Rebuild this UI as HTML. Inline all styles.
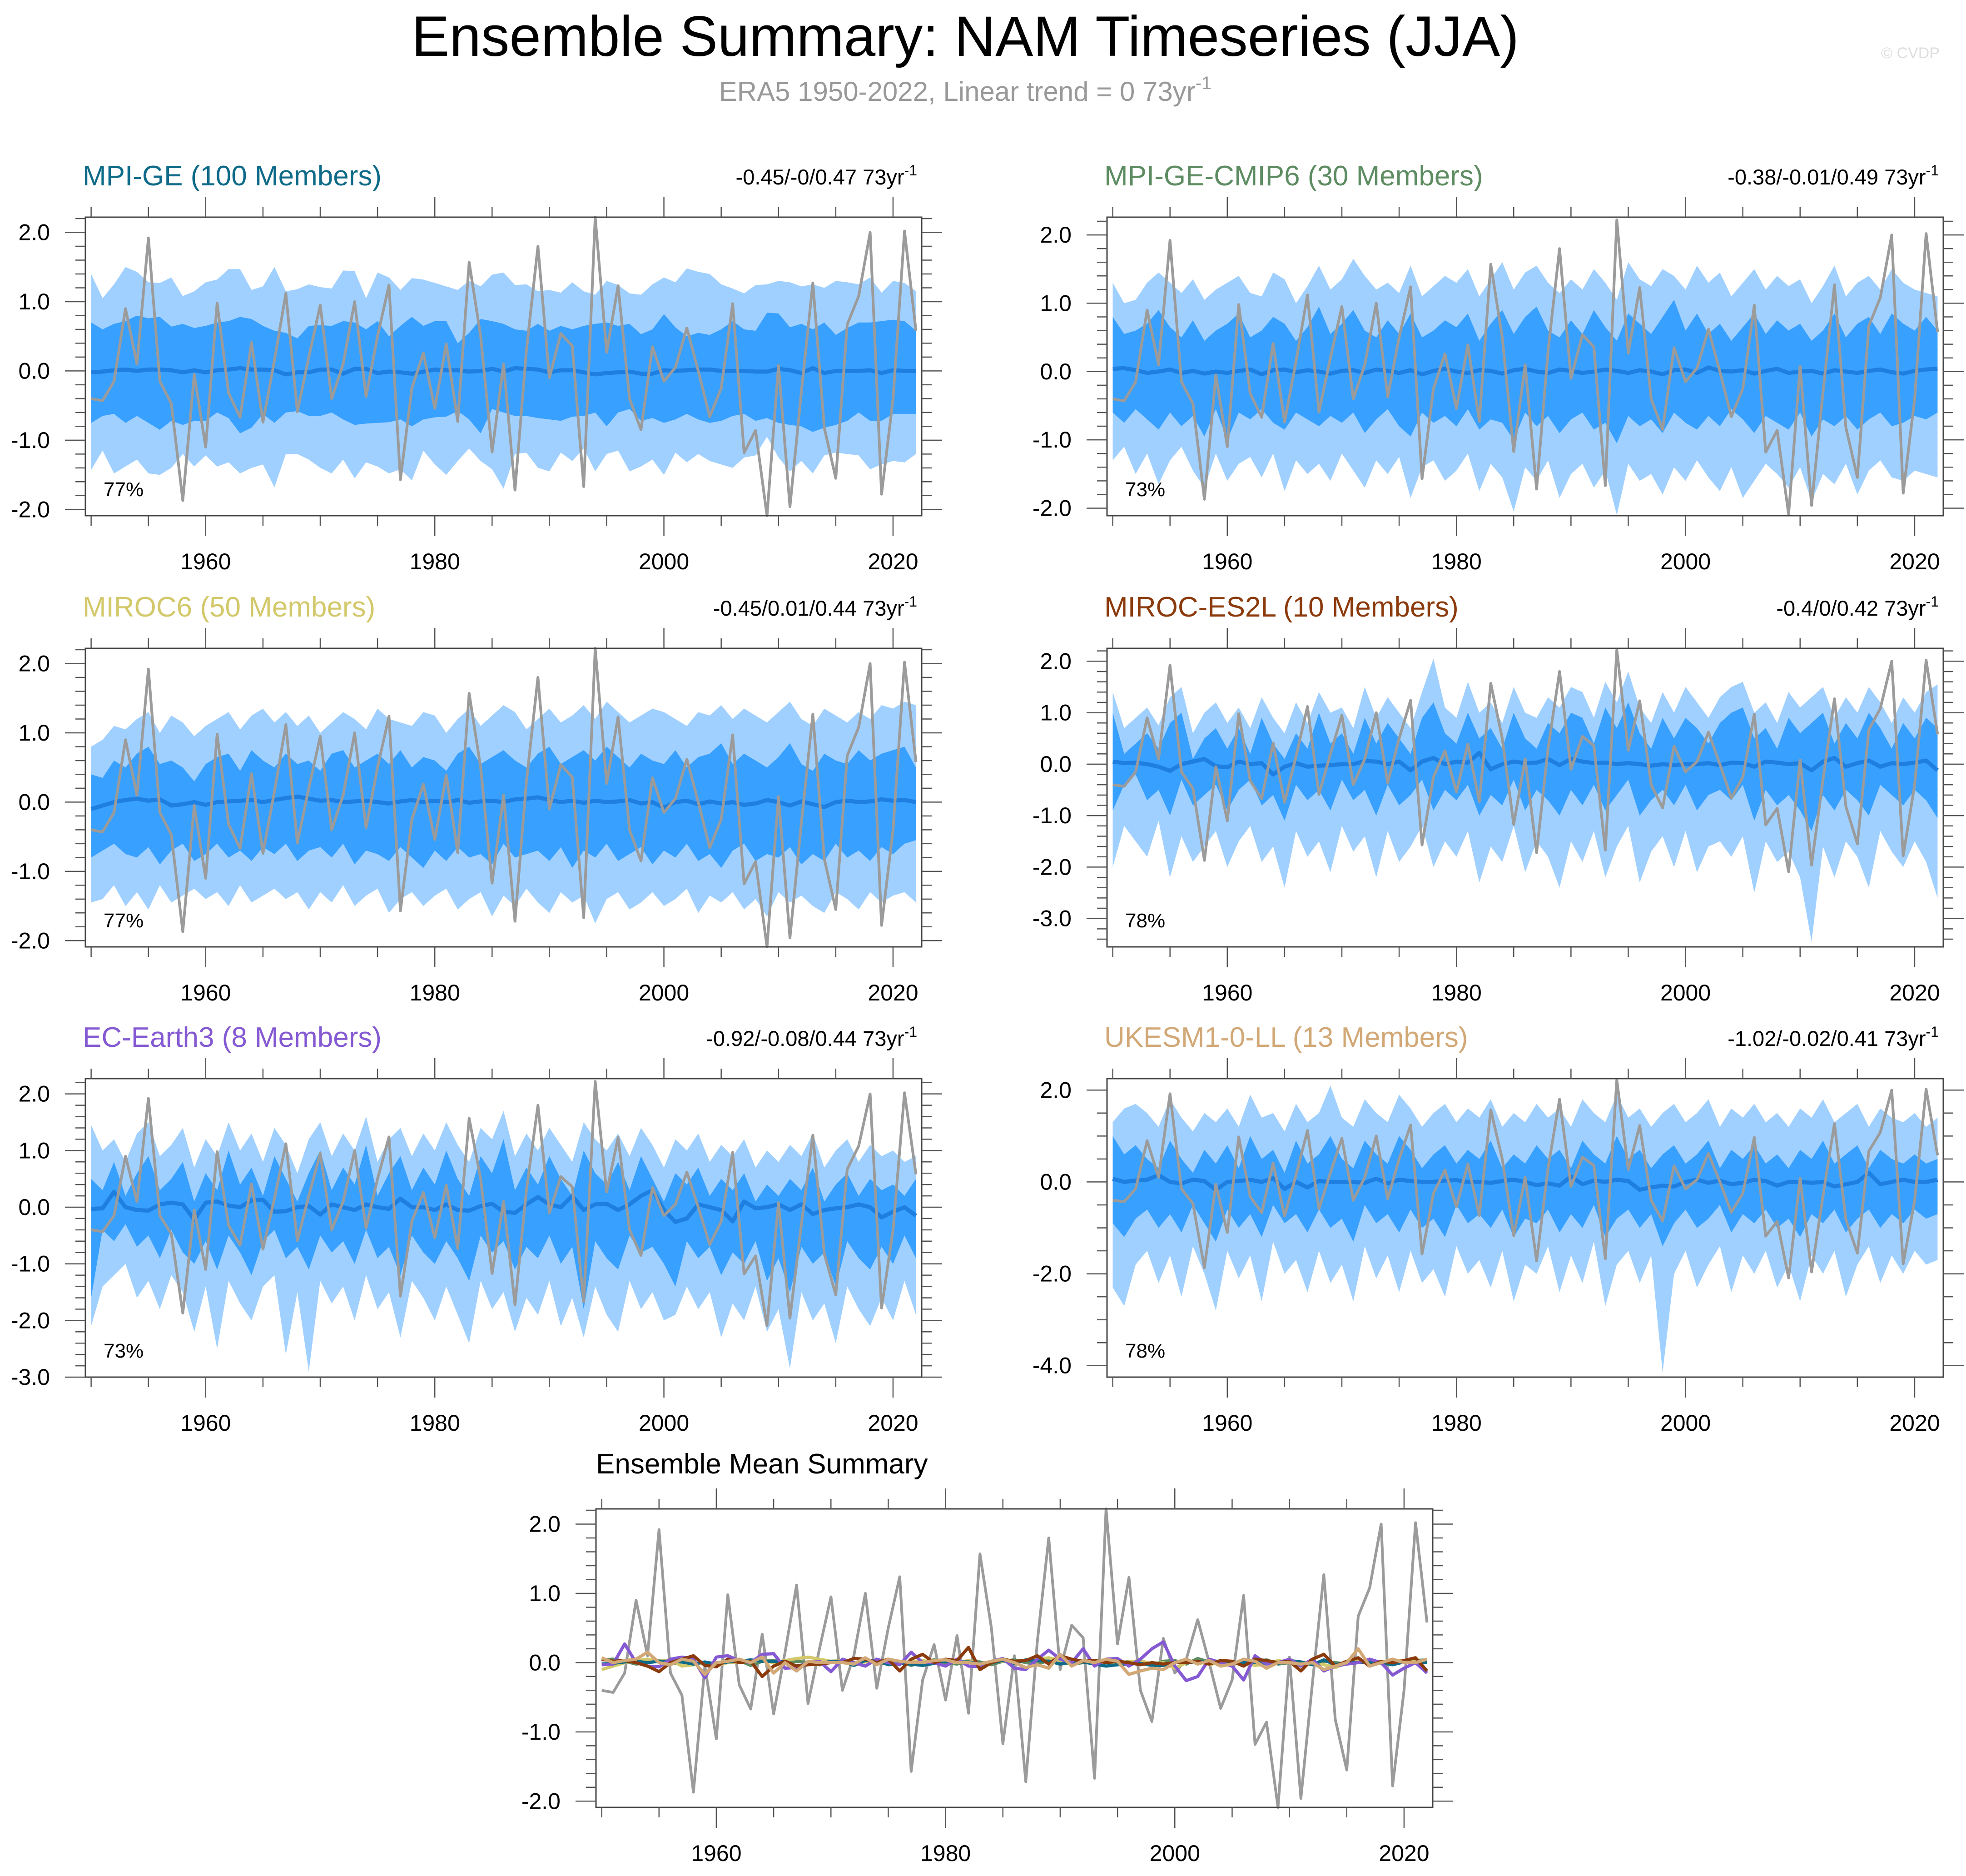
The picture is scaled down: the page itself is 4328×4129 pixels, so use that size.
<!DOCTYPE html>
<html><head><meta charset="utf-8"><style>
html,body{margin:0;padding:0;background:#fff}
svg{display:block;font-family:"Liberation Sans",sans-serif}
</style></head><body>
<svg id="fig" xmlns="http://www.w3.org/2000/svg" width="4328" height="4129" viewBox="0 0 4328 4129">
<rect width="4328" height="4129" fill="#fff"/>
<text x="2125" y="123" font-size="125" text-anchor="middle" fill="#000">Ensemble Summary: NAM Timeseries (JJA)</text>
<text x="2125" y="222" font-size="60" text-anchor="middle" fill="#999">ERA5 1950-2022, Linear trend = 0 73yr<tspan font-size="40" dy="-26">-1</tspan></text>
<text x="4270" y="128" font-size="34" text-anchor="end" fill="#ddd">© CVDP</text>
</svg>
<script>
const years=[];for(let y=1950;y<=2022;y++)years.push(y);
const era5=[-0.40,-0.43,-0.15,0.90,0.10,1.92,-0.15,-0.47,-1.87,-0.05,
-1.10,0.98,-0.32,-0.67,0.41,-0.74,0.15,1.12,-0.59,0.2,
0.95,-0.40,0.1,1.0,-0.37,0.5,1.24,-1.57,-0.25,0.26,
-0.54,0.39,-0.73,1.57,0.5,-1.17,0.1,-1.72,0.3,1.80,
-0.1,0.54,0.36,-1.67,2.22,0.27,1.23,-0.4,-0.85,0.35,
-0.15,0.05,0.62,0.0,-0.66,-0.25,0.97,-1.18,-0.86,-2.09,
0.08,-1.96,-0.3,1.27,-0.82,-1.55,0.67,1.08,2.0,-1.78,
-0.4,2.02,0.58];
const p1HiOuter=[1.4,1.05,1.25,1.5,1.43,1.28,1.27,1.35,1.08,1.15,1.28,1.32,1.47,1.47,1.17,1.22,1.5,1.15,1.18,1.25,1.21,1.19,1.45,1.44,1.05,1.42,1.35,1.17,1.34,1.32,1.27,1.22,1.17,1.3,1.22,1.39,1.42,1.24,1.25,1.15,1.17,1.13,1.28,1.15,1.1,1.3,1.24,1.12,1.1,1.25,1.35,1.28,1.48,1.43,1.4,1.25,1.19,1.12,1.24,1.25,1.3,1.28,1.22,1.25,1.2,1.3,1.28,1.25,1.35,1.13,1.3,1.27,1.15];
const p1HiInner=[0.7,0.6,0.68,0.72,0.8,0.76,0.78,0.64,0.68,0.62,0.65,0.7,0.72,0.78,0.75,0.65,0.58,0.55,0.47,0.65,0.66,0.65,0.72,0.7,0.6,0.72,0.5,0.65,0.78,0.65,0.72,0.72,0.4,0.55,0.75,0.72,0.68,0.6,0.58,0.68,0.58,0.65,0.6,0.65,0.68,0.7,0.65,0.68,0.53,0.6,0.82,0.63,0.5,0.55,0.52,0.6,0.72,0.6,0.58,0.84,0.83,0.63,0.68,0.6,0.7,0.52,0.62,0.7,0.7,0.72,0.74,0.72,0.58];
const p1LoInner=[-0.75,-0.65,-0.62,-0.75,-0.65,-0.75,-0.85,-0.72,-0.78,-0.72,-0.72,-0.6,-0.68,-0.9,-0.82,-0.62,-0.75,-0.6,-0.58,-0.65,-0.65,-0.6,-0.7,-0.78,-0.76,-0.75,-0.74,-0.7,-0.8,-0.7,-0.67,-0.66,-0.58,-0.7,-0.9,-0.55,-0.6,-0.65,-0.65,-0.68,-0.7,-0.72,-0.66,-0.65,-0.6,-0.8,-0.6,-0.55,-0.72,-0.68,-0.75,-0.7,-0.62,-0.7,-0.75,-0.72,-0.65,-0.62,-0.72,-0.68,-0.75,-0.78,-0.8,-0.88,-0.82,-0.78,-0.72,-0.6,-0.72,-0.72,-0.62,-0.62,-0.62];
const p1LoOuter=[-1.43,-1.15,-1.48,-1.38,-1.28,-1.48,-1.5,-1.4,-1.2,-1.38,-1.22,-1.38,-1.32,-1.48,-1.4,-1.35,-1.68,-1.2,-1.2,-1.28,-1.4,-1.48,-1.28,-1.55,-1.32,-1.38,-1.48,-1.42,-1.58,-1.15,-1.35,-1.5,-1.3,-1.12,-1.3,-1.42,-1.7,-1.2,-1.18,-1.4,-1.45,-1.18,-1.3,-1.12,-1.45,-1.2,-1.15,-1.45,-1.38,-1.28,-1.5,-1.18,-1.32,-1.2,-1.3,-1.35,-1.4,-1.25,-1.22,-0.95,-1.25,-1.45,-1.3,-1.48,-1.22,-1.18,-1.2,-1.22,-1.42,-1.35,-1.3,-1.32,-1.2];
const p1Mean=[-0.02,-0.01,0.01,0.02,0,0.02,0.02,0.01,-0.02,0.01,-0.02,0.01,0.02,0.04,0.02,0.02,0.01,-0.05,-0.02,-0.02,0.02,0.02,-0.04,0.03,0.03,-0.03,-0.01,-0.02,-0.04,-0.01,0.02,0.01,0.01,-0.01,0,0.03,-0.01,0.04,0.03,0.02,-0.02,0.01,0.01,-0.02,-0.05,-0.03,-0.02,-0.01,-0.04,-0.04,0.01,0,0.01,0.02,0.02,0,0,0,-0.01,-0.01,0.03,0.01,-0.03,0.04,-0.03,0,0,0,0.01,-0.03,0.01,0,0];
const p2HiOuter=[1.3,1.0,1.05,1.3,1.45,1.3,1.15,1.35,1.05,1.2,1.3,1.4,1.15,1.1,1.45,1.35,1.0,1.25,1.55,1.2,1.35,1.65,1.4,1.2,1.3,1.15,1.55,1.1,1.25,1.4,1.3,1.5,1.1,1.35,1.6,1.2,1.45,1.55,1.3,1.15,1.35,1.2,1.5,1.3,1.05,1.6,1.35,1.25,1.5,1.4,1.2,1.55,1.3,1.45,1.1,1.3,1.5,1.2,1.4,1.25,1.35,1.0,1.25,1.55,1.1,1.3,1.4,1.2,1.5,1.3,1.2,1.15,1.1];
const p2HiInner=[0.8,0.55,0.6,0.7,0.9,0.65,0.5,0.75,0.45,0.6,0.7,0.85,0.5,0.6,0.8,0.7,0.45,0.65,0.95,0.55,0.7,0.9,0.6,0.5,0.75,0.55,0.85,0.5,0.6,0.75,0.65,0.85,0.45,0.7,0.9,0.55,0.8,0.95,0.6,0.5,0.75,0.55,0.9,0.65,0.45,0.85,0.7,0.55,0.8,1.05,0.6,0.85,0.55,0.7,0.45,0.65,0.85,0.55,0.75,0.6,0.7,0.45,0.6,0.85,0.5,0.7,0.8,0.55,0.85,0.7,0.6,0.8,0.6];
const p2LoInner=[-0.6,-0.75,-0.55,-0.7,-0.85,-0.6,-0.8,-0.65,-0.95,-0.55,-1.0,-0.6,-0.7,-0.55,-0.75,-0.85,-0.6,-0.7,-0.8,-0.65,-0.75,-0.6,-0.9,-0.7,-0.55,-0.8,-0.95,-0.6,-0.75,-0.65,-0.8,-0.55,-0.85,-0.7,-0.75,-1.0,-0.6,-0.8,-0.65,-0.9,-0.7,-0.6,-0.85,-0.75,-1.05,-0.65,-0.8,-0.7,-0.9,-0.6,-0.75,-0.85,-0.65,-0.8,-0.55,-0.7,-0.9,-0.65,-0.75,-0.85,-0.6,-0.95,-0.7,-0.8,-0.65,-0.85,-0.7,-0.6,-0.8,-0.75,-0.65,-0.7,-0.6];
const p2LoOuter=[-1.3,-1.1,-1.5,-1.2,-1.65,-1.3,-1.1,-1.45,-1.7,-1.2,-1.6,-1.35,-1.25,-1.55,-1.2,-1.75,-1.3,-1.5,-1.35,-1.6,-1.2,-1.45,-1.7,-1.3,-1.5,-1.25,-1.85,-1.4,-1.3,-1.6,-1.45,-1.2,-1.75,-1.35,-1.55,-2.05,-1.4,-1.6,-1.3,-1.85,-1.5,-1.35,-1.7,-1.45,-2.1,-1.35,-1.6,-1.5,-1.8,-1.4,-1.6,-1.3,-1.55,-1.75,-1.4,-1.85,-1.6,-1.35,-1.5,-1.7,-1.4,-1.9,-1.5,-1.65,-1.35,-1.8,-1.45,-1.3,-1.55,-1.6,-1.45,-1.5,-1.55];
const p2Mean=[0.04,0.05,0.02,-0.02,0.0,0.03,-0.02,0.01,-0.03,0.0,-0.02,0.01,0.03,-0.04,0.02,0.03,-0.01,0.02,0.0,-0.03,0.01,0.02,-0.02,0.03,0.01,-0.02,0.02,-0.04,0.01,0.04,0.0,-0.02,0.02,0.01,-0.03,0.02,0.04,0.0,-0.02,0.03,0.01,-0.02,0.0,0.03,0.01,-0.02,0.02,0.0,-0.04,0.02,0.03,-0.02,0.06,0.01,0.0,0.02,-0.03,0.01,0.04,-0.02,0.0,0.01,-0.03,0.02,0.0,-0.02,0.01,0.03,-0.01,-0.03,0.01,0.03,0.04];
const p3HiOuter=[0.8,0.9,1.1,1.05,1.2,1.3,1.0,1.25,1.15,0.95,1.1,1.2,1.3,1.05,1.25,1.35,1.15,1.3,1.1,1.25,1.0,1.15,1.3,1.2,1.05,1.35,1.2,1.15,1.1,1.3,1.25,1.0,1.2,1.35,1.1,1.25,1.4,1.3,1.05,1.2,1.35,1.15,1.25,1.4,1.2,1.45,1.3,1.15,1.25,1.35,1.3,1.2,1.1,1.3,1.25,1.4,1.2,1.35,1.25,1.15,1.3,1.45,1.2,1.1,1.35,1.25,1.15,1.3,1.2,1.4,1.35,1.45,1.4];
const p3HiInner=[0.4,0.35,0.6,0.5,0.7,0.8,0.55,0.6,0.5,0.3,0.55,0.65,0.7,0.45,0.75,0.6,0.5,0.7,0.55,0.6,0.45,0.7,0.75,0.5,0.6,0.7,0.55,0.75,0.5,0.65,0.6,0.45,0.7,0.8,0.55,0.65,0.75,0.6,0.5,0.7,0.8,0.55,0.65,0.75,0.6,0.8,0.65,0.5,0.7,0.6,0.55,0.75,0.5,0.65,0.7,0.85,0.55,0.7,0.6,0.5,0.65,0.85,0.55,0.45,0.7,0.6,0.55,0.75,0.6,0.7,0.75,0.8,0.5];
const p3LoInner=[-0.8,-0.7,-0.6,-0.75,-0.8,-0.65,-0.9,-0.7,-0.6,-0.85,-0.75,-0.6,-0.8,-0.7,-0.85,-0.65,-0.75,-0.6,-0.85,-0.7,-0.65,-0.8,-0.6,-0.9,-0.7,-0.75,-0.85,-0.65,-0.8,-0.95,-0.7,-0.85,-0.65,-0.8,-0.75,-0.9,-0.6,-0.8,-0.75,-0.7,-0.85,-0.65,-0.95,-0.7,-0.8,-0.6,-0.85,-0.75,-0.65,-0.9,-0.7,-0.8,-0.6,-0.85,-0.75,-0.95,-0.7,-0.6,-0.85,-0.75,-0.8,-0.65,-0.9,-0.75,-0.85,-0.6,-0.8,-0.7,-0.85,-0.65,-0.75,-0.6,-0.55];
const p3LoOuter=[-1.45,-1.4,-1.2,-1.5,-1.3,-1.55,-1.2,-1.45,-1.35,-1.25,-1.4,-1.3,-1.5,-1.2,-1.45,-1.35,-1.25,-1.4,-1.3,-1.55,-1.3,-1.45,-1.2,-1.5,-1.35,-1.25,-1.6,-1.4,-1.3,-1.5,-1.35,-1.25,-1.55,-1.4,-1.3,-1.65,-1.35,-1.5,-1.25,-1.45,-1.6,-1.3,-1.45,-1.35,-1.75,-1.4,-1.3,-1.55,-1.45,-1.3,-1.5,-1.4,-1.25,-1.6,-1.35,-1.45,-1.3,-1.55,-1.4,-1.65,-1.3,-1.45,-1.35,-1.5,-1.6,-1.3,-1.4,-1.55,-1.3,-1.45,-1.35,-1.3,-1.45];
const p3Mean=[-0.1,-0.05,0.0,0.03,0.05,0.02,0.04,-0.05,-0.03,0.0,-0.04,0.0,0.01,0.02,0.03,0.0,0.03,0.06,0.08,0.05,0.02,0.03,0.0,0.01,0.02,0.0,-0.02,0.01,0.03,0.0,0.02,0.0,0.03,-0.01,0.01,0.02,0.0,0.04,0.05,0.07,0.03,0.0,0.02,-0.01,0.02,0.0,0.01,0.03,-0.02,0.0,-0.08,0.0,0.02,-0.03,0.01,-0.02,0.0,-0.04,-0.02,0.03,0.0,-0.05,0.01,-0.03,-0.07,0.0,0.02,0.0,0.01,0.04,0.02,0.03,0.0];
const p4HiOuter=[1.4,0.7,0.9,1.1,0.75,1.3,1.5,0.6,1.0,1.2,0.8,1.1,0.7,1.3,0.9,0.6,1.2,0.8,1.4,1.0,1.1,0.7,1.5,0.9,1.3,1.0,0.7,1.4,2.05,1.1,0.9,1.6,1.0,1.2,0.8,1.5,1.0,0.9,1.3,1.1,1.5,1.4,0.9,1.6,1.2,1.8,1.1,0.8,1.4,1.0,1.5,1.2,0.9,1.3,1.5,1.6,1.0,1.2,0.8,1.4,1.1,1.3,1.5,0.9,1.3,1.0,1.5,1.2,0.8,1.3,1.0,1.4,1.55];
const p4HiInner=[1.0,0.2,0.4,0.6,0.3,0.8,1.0,0.1,0.5,0.7,0.3,0.7,0.2,0.9,0.4,0.1,0.6,0.3,1.0,0.4,0.6,0.2,0.9,0.4,0.8,0.5,0.2,0.9,1.2,0.6,0.4,1.0,0.5,0.7,0.3,1.0,0.5,0.3,0.8,0.6,1.0,0.9,0.4,1.1,0.7,1.2,0.6,0.3,0.9,0.5,0.9,0.7,0.4,0.8,1.0,1.1,0.5,0.7,0.3,0.9,0.6,0.8,1.0,0.4,0.8,0.5,1.0,0.7,0.3,0.8,0.5,0.9,0.7];
const p4LoInner=[-0.9,-0.4,-0.2,-0.7,-0.5,-1.0,-0.3,-0.8,-0.6,-0.4,-0.9,-0.5,-0.3,-0.8,-0.6,-1.1,-0.4,-0.7,-0.5,-0.9,-0.3,-0.7,-0.5,-1.0,-0.4,-0.8,-0.6,-0.3,-0.9,-0.5,-0.7,-0.4,-1.0,-0.6,-0.8,-0.3,-0.9,-0.5,-0.7,-1.0,-0.5,-0.8,-0.4,-0.9,-0.6,-0.3,-1.0,-0.7,-0.5,-0.8,-0.4,-0.9,-0.6,-0.5,-0.7,-0.4,-1.1,-0.5,-0.8,-0.6,-0.9,-1.3,-0.6,-0.9,-0.5,-0.7,-1.0,-0.4,-0.6,-0.8,-0.5,-0.7,-1.05];
const p4LoOuter=[-2.0,-1.2,-1.5,-1.8,-1.1,-2.2,-1.4,-1.9,-1.6,-1.3,-2.0,-1.5,-1.2,-1.9,-1.6,-2.4,-1.3,-1.8,-1.5,-2.1,-1.2,-1.7,-1.4,-2.2,-1.3,-1.9,-1.6,-1.2,-2.0,-1.5,-1.8,-1.3,-2.3,-1.6,-1.9,-1.2,-2.1,-1.5,-1.8,-2.4,-1.5,-1.9,-1.3,-2.2,-1.6,-1.2,-2.3,-1.7,-1.4,-2.0,-1.3,-2.1,-1.6,-1.5,-1.8,-1.4,-2.5,-1.5,-1.9,-1.7,-2.2,-3.45,-1.6,-2.2,-1.5,-1.8,-2.4,-1.3,-1.7,-2.0,-1.5,-1.9,-2.6];
const p4Mean=[0.05,0.02,0.03,0.0,-0.05,-0.13,0.0,0.05,0.1,-0.04,-0.06,0.05,0.0,0.02,-0.2,-0.05,0.02,-0.05,-0.03,-0.02,0.0,0.0,0.06,0.05,0.0,0.05,-0.12,0.05,0.12,0.0,0.05,0.03,0.22,-0.1,0.0,0.05,0.02,0.03,0.1,-0.02,0.1,0.05,0.02,0.03,0.0,0.02,0.0,-0.03,0.0,-0.02,0.0,0.0,0.02,-0.02,0.03,0.02,-0.05,0.05,0.03,0.0,0.02,-0.12,0.05,0.12,-0.05,0.02,0.07,-0.05,0.02,0.0,0.03,0.07,-0.12];
const p5HiOuter=[1.45,1.0,1.2,0.8,1.3,1.5,0.9,1.1,1.4,0.7,1.2,0.9,1.5,1.0,1.3,0.8,1.4,1.1,0.6,1.2,1.5,0.9,1.3,1.0,1.6,0.8,1.2,1.4,0.9,1.3,1.0,1.5,1.1,0.8,1.4,1.2,1.7,0.9,1.3,1.0,1.4,1.1,0.8,1.5,1.2,1.0,1.3,0.9,1.4,1.1,0.7,1.2,1.0,1.3,0.8,1.1,0.9,1.2,0.7,1.0,0.8,1.1,0.9,1.3,0.7,1.0,1.2,0.8,1.1,0.9,1.0,0.8,0.9];
const p5HiInner=[0.5,0.3,0.8,0.2,0.6,0.9,0.3,0.5,0.8,0.1,0.6,0.3,1.0,0.4,0.7,0.2,0.9,0.5,0.1,0.6,1.0,0.3,0.7,0.4,1.1,0.2,0.6,0.9,0.3,0.7,0.4,1.0,0.5,0.2,0.9,0.6,1.2,0.3,0.7,0.4,0.9,0.5,0.2,1.0,0.6,0.4,0.8,0.3,0.9,0.5,0.1,0.6,0.4,0.7,0.2,0.5,0.3,0.6,0.1,0.4,0.2,0.5,0.3,0.7,0.1,0.4,0.6,0.2,0.5,0.3,0.4,0.2,0.5];
const p5LoInner=[-1.6,-0.4,-0.6,-0.3,-0.7,-0.5,-0.9,-0.4,-0.8,-1.0,-0.6,-1.1,-0.5,-0.8,-1.2,-0.6,-0.4,-0.9,-0.7,-1.1,-0.5,-0.8,-0.6,-1.0,-0.4,-0.9,-0.7,-1.2,-0.5,-0.8,-1.0,-0.6,-0.9,-1.3,-0.5,-0.8,-0.6,-1.1,-0.7,-0.9,-0.5,-1.0,-0.7,-1.8,-0.6,-0.9,-1.1,-0.5,-0.8,-0.7,-1.0,-1.4,-0.6,-0.9,-0.7,-1.2,-0.8,-1.0,-0.6,-1.3,-0.9,-1.5,-0.7,-1.0,-0.8,-1.4,-0.6,-0.9,-1.1,-0.7,-1.0,-0.5,-0.9];
const p5LoOuter=[-2.1,-1.4,-1.2,-1.0,-1.6,-1.3,-1.8,-1.2,-1.5,-2.2,-1.4,-2.5,-1.3,-1.7,-2.0,-1.4,-1.2,-2.6,-1.5,-2.9,-1.3,-1.7,-1.4,-2.0,-1.2,-1.8,-1.5,-2.3,-1.3,-1.6,-2.0,-1.4,-1.9,-2.4,-1.3,-1.8,-1.5,-2.2,-1.6,-1.9,-1.3,-2.1,-1.6,-2.3,-1.4,-1.9,-2.2,-1.3,-1.8,-1.5,-2.0,-1.9,-1.4,-1.8,-1.5,-2.3,-1.7,-2.0,-1.4,-2.2,-1.8,-2.85,-1.5,-2.0,-1.7,-2.4,-1.4,-1.8,-2.1,-1.6,-2.0,-1.3,-1.9];
const p5Mean=[-0.03,-0.02,0.27,0.0,-0.05,-0.06,0.05,0.08,0.05,-0.22,0.08,0.1,0.03,0.0,0.12,0.13,-0.08,-0.07,0.0,0.02,-0.13,0.05,0.0,-0.05,0.05,0.0,-0.03,0.15,0.0,0.0,-0.05,0.05,-0.05,-0.06,0.02,0.06,-0.08,-0.1,0.05,0.18,0.05,0.0,0.2,-0.05,0.05,0.06,-0.05,0.05,0.2,0.3,-0.05,-0.26,-0.2,0.05,0.0,-0.05,-0.25,0.1,-0.02,0.0,0.05,-0.05,0.05,-0.12,-0.05,-0.02,0.0,0.05,0.0,-0.18,-0.08,0.0,-0.15];
const p6HiOuter=[1.3,1.6,1.7,1.5,1.2,1.8,1.4,1.1,1.5,1.3,1.6,1.2,1.9,1.4,1.5,1.1,1.7,1.3,1.5,2.1,1.4,1.2,1.8,1.5,1.3,1.9,1.6,1.2,1.5,1.7,1.3,1.6,1.4,1.8,1.2,1.5,1.3,1.7,1.4,1.6,1.2,1.8,1.5,1.3,1.9,1.4,1.6,1.2,1.5,1.7,1.3,1.5,1.8,1.2,1.6,1.4,1.7,1.3,1.5,1.2,1.6,1.4,1.8,1.3,1.5,1.7,1.2,1.6,1.4,1.3,1.5,1.2,1.4];
const p6HiInner=[1.0,0.6,0.8,0.5,0.3,0.9,0.5,0.2,0.7,0.4,0.8,0.3,1.0,0.5,0.7,0.2,0.9,0.4,0.6,1.0,0.5,0.3,0.9,0.6,0.4,1.0,0.7,0.3,0.6,0.8,0.4,0.7,0.5,0.9,0.3,0.6,0.4,0.8,0.5,0.7,0.3,0.9,0.6,0.4,1.0,0.5,0.7,0.3,0.6,0.8,0.4,0.6,0.9,0.3,0.7,0.5,0.8,0.4,0.6,0.3,0.7,0.5,0.9,0.4,0.6,0.8,0.3,0.7,0.5,0.4,0.6,0.4,0.5];
const p6LoInner=[-0.9,-1.2,-0.8,-0.6,-1.0,-0.7,-1.1,-0.5,-0.9,-1.3,-0.6,-1.0,-0.7,-1.2,-0.5,-0.9,-0.7,-1.1,-0.6,-1.0,-0.8,-1.3,-0.5,-0.9,-0.7,-1.1,-0.6,-1.0,-0.8,-1.2,-0.5,-0.9,-0.7,-1.0,-0.6,-1.2,-0.8,-0.9,-0.6,-1.1,-0.7,-1.0,-0.5,-1.2,-0.8,-0.6,-1.0,-0.7,-1.4,-0.9,-0.6,-1.0,-0.8,-0.5,-1.1,-0.7,-0.9,-0.6,-1.0,-0.8,-1.2,-0.7,-0.9,-0.6,-1.1,-0.8,-0.6,-1.0,-0.7,-0.9,-0.6,-0.8,-0.7];
const p6LoOuter=[-2.3,-2.7,-1.8,-1.5,-2.2,-1.6,-2.5,-1.4,-2.0,-2.8,-1.5,-2.1,-1.6,-2.6,-1.3,-2.0,-1.7,-2.4,-1.5,-2.2,-1.8,-2.6,-1.4,-2.1,-1.6,-2.4,-1.5,-2.2,-1.9,-2.5,-1.4,-2.0,-1.7,-2.3,-1.5,-2.6,-1.8,-2.0,-1.4,-2.4,-1.6,-2.2,-1.3,-2.7,-1.8,-1.5,-2.2,-1.6,-4.15,-2.0,-1.5,-2.3,-1.8,-1.4,-2.4,-1.6,-2.0,-1.5,-2.3,-1.8,-2.6,-1.6,-2.0,-1.5,-2.5,-1.8,-1.4,-2.2,-1.6,-2.0,-1.5,-1.8,-1.7];
const p6Mean=[0.07,0.0,0.03,0.05,0.15,0.0,-0.03,0.05,0.02,-0.17,0.0,0.02,0.05,0.0,0.08,-0.15,0.0,-0.12,0.02,0.0,0.0,0.0,-0.02,0.07,-0.03,0.05,0.02,0.0,0.0,0.03,0.04,0.0,0.0,-0.02,0.02,0.05,0.0,-0.07,-0.03,-0.08,0.12,-0.05,0.03,0.0,0.05,0.02,-0.17,-0.12,-0.08,-0.1,0.0,0.05,-0.02,0.03,-0.05,-0.02,0.05,0.02,-0.08,0.0,0.0,-0.02,0.0,-0.1,-0.05,0.0,0.2,-0.05,0.0,0.05,0.0,0.0,0.05];

const modelNames=["MPI-GE (100 Members)","MPI-GE-CMIP6 (30 Members)","MIROC6 (50 Members)","MIROC-ES2L (10 Members)","EC-Earth3 (8 Members)","UKESM1-0-LL (13 Members)"];
const trendLabels=["-0.45/-0/0.47 73yr","-0.38/-0.01/0.49 73yr","-0.45/0.01/0.44 73yr","-0.4/0/0.42 73yr","-0.92/-0.08/0.44 73yr","-1.02/-0.02/0.41 73yr"];
const pctLabels=["77%","73%","77%","78%","73%","78%"];
const xTickLabels=[1960,1980,2000,2020];

const NS="http://www.w3.org/2000/svg";
const svg=document.getElementById('fig');
function mk(tag,attrs,parent){const e=document.createElementNS(NS,tag);for(const k in attrs)e.setAttribute(k,attrs[k]);(parent||svg).appendChild(e);return e;}

const colors=["#0d6a88","#5e8c62","#d3c86a","#8b3a0c","#8459d2","#d2a877"];
const bands=[[p1HiOuter,p1HiInner,p1LoInner,p1LoOuter,p1Mean],[p2HiOuter,p2HiInner,p2LoInner,p2LoOuter,p2Mean],[p3HiOuter,p3HiInner,p3LoInner,p3LoOuter,p3Mean],[p4HiOuter,p4HiInner,p4LoInner,p4LoOuter,p4Mean],[p5HiOuter,p5HiInner,p5LoInner,p5LoOuter,p5Mean],[p6HiOuter,p6HiInner,p6LoInner,p6LoOuter,p6Mean]];
const cols=[188,2437], rows=[478,1427,2374], W=1841, H=657;
const yr=[[-2.09,2.22,1,0.2],[-2.11,2.26,1,0.2],[-2.09,2.22,1,0.2],[-3.55,2.25,1,0.2],[-3.0,2.27,1,0.2],[-4.25,2.25,2,0.5]];

function axes(g,bx,by,bw,bh,ymin,ymax,ystep,yminor){
  const X=v=>bx+(v-1949.5)/73*bw, Y=v=>by+bh-(v-ymin)/(ymax-ymin)*bh;
  return {X,Y,draw(){
    for(let y=1950;y<=2020;y+=5){const maj=(y%20===0);const x=X(y);
      mk('line',{x1:x,x2:x,y1:by,y2:by-(maj?45:22),stroke:'#555','stroke-width':2.5},g);
      mk('line',{x1:x,x2:x,y1:by+bh,y2:by+bh+(maj?45:22),stroke:'#555','stroke-width':2.5},g);}
    xTickLabels.forEach(y=>{const t=mk('text',{x:X(y),y:by+bh+118,'font-size':50,'text-anchor':'middle',fill:'#000'},g);t.textContent=y;
      
      });
    const n0=Math.ceil(ymin/yminor-1e-6),n1=Math.floor(ymax/yminor+1e-6);
    for(let i=n0;i<=n1;i++){const v=i*yminor;const maj=Math.abs(v/ystep-Math.round(v/ystep))<1e-6;const y=Y(v);
      mk('line',{x1:bx,x2:bx-(maj?45:22),y1:y,y2:y,stroke:'#555','stroke-width':2.5},g);
      mk('line',{x1:bx+bw,x2:bx+bw+(maj?45:22),y1:y,y2:y,stroke:'#555','stroke-width':2.5},g);
      if(maj){const t=mk('text',{x:bx-78,y:y+17,'font-size':50,'text-anchor':'end',fill:'#000'},g);t.textContent=v.toFixed(1);
        
        }}
  }};
}
function linePath(X,Y,arr){return arr.map((v,i)=>(i?'L':'M')+X(years[i]).toFixed(1)+','+Y(v).toFixed(1)).join('');}
function bandPath(X,Y,hi,lo){let d=linePath(X,Y,hi);for(let i=lo.length-1;i>=0;i--)d+='L'+X(years[i]).toFixed(1)+','+Y(lo[i]).toFixed(1);return d+'Z';}

for(let p=0;p<6;p++){
  const bx=cols[p%2],by=rows[Math.floor(p/2)];
  const g=mk('g',{});
  
  
  const [ymin,ymax,ys,ym]=yr[p];
  const ax=axes(g,bx,by,W,H,ymin,ymax,ys,ym);
  const b=bands[p];
  const o=mk('path',{d:bandPath(ax.X,ax.Y,b[0],b[3]),fill:'#a0d0ff'},g);
  
  
  const inn=mk('path',{d:bandPath(ax.X,ax.Y,b[1],b[2]),fill:'#38a0ff'},g);
  
  
  const m=mk('path',{d:linePath(ax.X,ax.Y,b[4]),fill:'none',stroke:'#1e7fe0','stroke-width':9,'stroke-linejoin':'round'},g);
  
  
  const e=mk('path',{d:linePath(ax.X,ax.Y,era5),fill:'none',stroke:'#9b9b9b','stroke-width':6,'stroke-linejoin':'round'},g);
  
  
  const box=mk('rect',{x:bx,y:by,width:W,height:H,fill:'none',stroke:'#444','stroke-width':3},g);
  
  
  ax.draw();
  const t=mk('text',{x:bx-6,y:by-70,'font-size':62,fill:colors[p]},g);t.textContent=modelNames[p];
  
  
  const r=mk('text',{x:bx+W-10,y:by-72,'font-size':47,'text-anchor':'end',fill:'#000'},g);
  r.textContent=trendLabels[p];
  const sup=mk('tspan',{'font-size':32,dy:-20},r);sup.textContent='-1';
  
  
  const pc=mk('text',{x:bx+40,y:by+H-43,'font-size':44,fill:'#000'},g);pc.textContent=pctLabels[p];
  
  
}
{
  const bx=1312,by=3321,bw=1842,bh=657;
  const g=mk('g',{});
  
  
  const ax=axes(g,bx,by,bw,bh,-2.09,2.22,1,0.2);
  const e=mk('path',{d:linePath(ax.X,ax.Y,era5),fill:'none',stroke:'#9b9b9b','stroke-width':6,'stroke-linejoin':'round'},g);
  
  
  const order=[1,2,0,4,3,5];
  order.forEach(p=>{const l=mk('path',{d:linePath(ax.X,ax.Y,bands[p][4]),fill:'none',stroke:colors[p],'stroke-width':7,'stroke-linejoin':'round'},g);
    
    });
  const box=mk('rect',{x:bx,y:by,width:bw,height:bh,fill:'none',stroke:'#444','stroke-width':3},g);
  
  
  ax.draw();
  const t=mk('text',{x:bx,y:by-78,'font-size':62,fill:'#000'},g);t.textContent='Ensemble Mean Summary';
  
  
}
</script>
</body></html>
